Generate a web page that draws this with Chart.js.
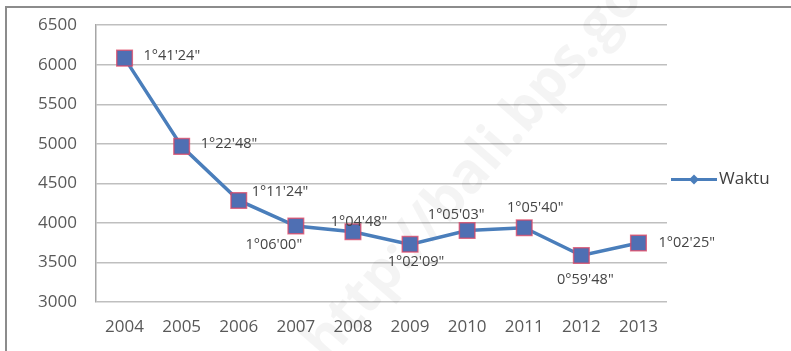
<!DOCTYPE html>
<html>
<head>
<meta charset="utf-8">
<script src="https://cdn.jsdelivr.net/npm/chart.js@4.4.1/dist/chart.umd.min.js"></script>
<style>
    html, body { margin: 0; padding: 0; background: #fff; overflow: hidden; }
    #wrap { position: relative; width: 791px; height: 351px; overflow: hidden; }
    #frame { position: absolute; left: 5px; top: 6px; right: 0; bottom: 0;
             border-left: 2px solid #8c8c8c; border-top: 2px solid #8c8c8c; }
    canvas { position: absolute; left: 0; top: -4px; }
</style>
</head>
<body>
<div id="wrap">
    <div id="frame"></div>
    <canvas id="chart" width="791" height="355"></canvas>
</div>
<script>
// Data
const years = ['2004', '2005', '2006', '2007', '2008', '2009', '2010', '2011', '2012', '2013'];
const waktuSeconds = [6084, 4968, 4284, 3960, 3888, 3729, 3903, 3940, 3588, 3745];
const waktuLabels = ['1°41\'24"', '1°22\'48"', '1°11\'24"', '1°06\'00"', '1°04\'48"',
                     '1°02\'09"', '1°05\'03"', '1°05\'40"', '0°59\'48"', '1°02\'25"'];
const yTicks = [3000, 3500, 4000, 4500, 5000, 5500, 6000, 6500];

// Label placement (align, dx, dy) relative to each point
const labelPlace = [
    ['left', 19, -2], ['left', 19, -2], ['left', 13, -9], ['center', -22, 19], ['center', 6, -10],
    ['center', 6, 18], ['center', -11, -16], ['center', 11, -20], ['center', 4, 24], ['left', 20, 0]
];

const fontFamily = '"Open Sans", "Liberation Sans", sans-serif';

// Watermark behind the line
const watermarkPlugin = {
    id: 'watermark',
    beforeDatasetsDraw(chart) {
        const ctx = chart.ctx;
        ctx.save();
        ctx.translate(470, 179);
        ctx.rotate(-49 * Math.PI / 180);
        ctx.font = 'bold 56px ' + fontFamily;
        ctx.fillStyle = 'rgba(0,0,0,0.045)';
        ctx.textAlign = 'center';
        ctx.textBaseline = 'middle';
        ctx.fillText('http://bali.bps.go.id', 40, 0);
        ctx.restore();
    }
};

// Point labels + legend
const labelsPlugin = {
    id: 'pointLabels',
    afterDatasetsDraw(chart) {
        const ctx = chart.ctx;
        const meta = chart.getDatasetMeta(0);
        ctx.save();
        ctx.font = '14.5px ' + fontFamily;
        ctx.fillStyle = '#454545';
        ctx.textBaseline = 'middle';
        meta.data.forEach(function(pt, i) {
            const p = labelPlace[i];
            ctx.textAlign = p[0];
            ctx.fillText(waktuLabels[i], pt.x + p[1], pt.y + p[2]);
        });

        // legend on the right
        const area = chart.chartArea;
        const lx = area.right + 4;
        const ly = (area.top + area.bottom) / 2 + 16;
        ctx.strokeStyle = '#4a7ebb';
        ctx.lineWidth = 3;
        ctx.beginPath();
        ctx.moveTo(lx, ly);
        ctx.lineTo(lx + 46, ly);
        ctx.stroke();
        ctx.fillStyle = '#4a7ebb';
        ctx.beginPath();
        ctx.moveTo(lx + 23, ly - 5);
        ctx.lineTo(lx + 28, ly);
        ctx.lineTo(lx + 23, ly + 5);
        ctx.lineTo(lx + 18, ly);
        ctx.closePath();
        ctx.fill();
        ctx.font = '17px ' + fontFamily;
        ctx.fillStyle = '#404040';
        ctx.textAlign = 'left';
        ctx.fillText('Waktu', lx + 48, ly);
        ctx.restore();
    }
};

const ctx = document.getElementById('chart').getContext('2d');
new Chart(ctx, {
    type: 'line',
    data: {
        labels: years,
        datasets: [{
            label: 'Waktu',
            data: waktuSeconds,
            borderColor: '#4a7ebb',
            borderWidth: 3.5,
            pointStyle: 'rect',
            pointRadius: 11,
            pointBackgroundColor: '#4f6fb3',
            pointBorderColor: 'rgba(220,70,100,0.75)',
            pointBorderWidth: 1.5,
            tension: 0
        }]
    },
    options: {
        responsive: false,
        animation: false,
        layout: { autoPadding: false, padding: { left: 0, right: 124, top: 25, bottom: 0 } },
        plugins: {
            legend: { display: false },
            tooltip: { enabled: false }
        },
        scales: {
            x: {
                offset: true,
                grid: { display: false, drawTicks: false },
                border: { display: false },
                ticks: {
                    padding: 15,
                    color: '#595959',
                    font: { family: fontFamily, size: 17 }
                },
                afterFit(scale) { scale.height = 49; }
            },
            y: {
                min: 3000,
                max: 6500,
                afterBuildTicks(scale) {
                    scale.ticks = yTicks.map(v => ({ value: v }));
                },
                grid: { color: '#bfbfbf', lineWidth: 1.5, drawTicks: false },
                border: { display: true, color: '#a6a6a6', width: 1.5 },
                ticks: {
                    padding: 19,
                    color: '#595959',
                    font: { family: fontFamily, size: 17 },
                    callback: v => String(v)
                },
                afterFit(scale) { scale.width = 96; }
            }
        }
    },
    plugins: [watermarkPlugin, labelsPlugin]
});
</script>
</body>
</html>
